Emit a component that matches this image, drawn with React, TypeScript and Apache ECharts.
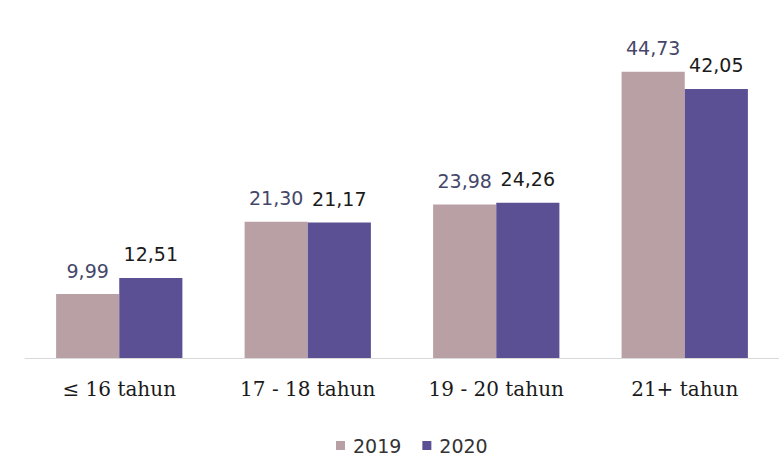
import React, { useEffect, useRef } from "react";
import * as echarts from "echarts";

const categories = ["≤ 16 tahun", "17 - 18 tahun", "19 - 20 tahun", "21+ tahun"];
const values2019 = [9.99, 21.3, 23.98, 44.73];
const values2020 = [12.51, 21.17, 24.26, 42.05];
const seriesNames = ["2019", "2020"];

const fmt = (v: number) => v.toFixed(2).replace(".", ",");

export default function App() {
  const ref = useRef<HTMLDivElement>(null);
  useEffect(() => {
    if (!ref.current) return;
    const chart = echarts.init(ref.current, null, { renderer: "svg" });
    chart.setOption({
      animation: false,
      backgroundColor: "#ffffff",
      grid: { left: 25, top: 38, width: 760, height: 320, containLabel: false },
      legend: {
        data: seriesNames,
        left: 331,
        top: 431,
        itemWidth: 9,
        itemHeight: 9,
        itemGap: 21,
        icon: "rect",
        textStyle: { fontFamily: "DejaVu Sans", fontSize: 19, color: "#333333", padding: [0, 0, 0, 3] },
      },
      xAxis: {
        type: "category",
        data: categories,
        axisLine: { show: true, lineStyle: { color: "#d9d9d9", width: 1 } },
        axisTick: { show: false },
        axisLabel: { fontFamily: "DejaVu Serif", fontSize: 20, color: "#1a1a1a", margin: 21 },
      },
      yAxis: { type: "value", min: 0, max: 50, show: false, splitLine: { show: false } },
      series: [
        {
          name: seriesNames[0],
          type: "bar",
          data: values2019,
          barGap: "0%",
          barCategoryGap: "33%",
          itemStyle: { color: "#b9a0a4" },
          label: {
            show: true,
            position: "top",
            distance: 14,
            formatter: (p: any) => fmt(p.value),
            fontFamily: "DejaVu Sans",
            fontSize: 19,
            color: "#45476a",
          },
        },
        {
          name: seriesNames[1],
          type: "bar",
          data: values2020,
          barGap: "0%",
          barCategoryGap: "33%",
          itemStyle: { color: "#5b5094" },
          label: {
            show: true,
            position: "top",
            distance: 14,
            formatter: (p: any) => fmt(p.value),
            fontFamily: "DejaVu Sans",
            fontSize: 19,
            color: "#1a1a1a",
          },
        },
      ],
    });
    return () => chart.dispose();
  }, []);
  return (
    <div
      ref={ref}
      style={{ position: "absolute", left: 0, top: 0, width: 779, height: 475 }}
    />
  );
}
